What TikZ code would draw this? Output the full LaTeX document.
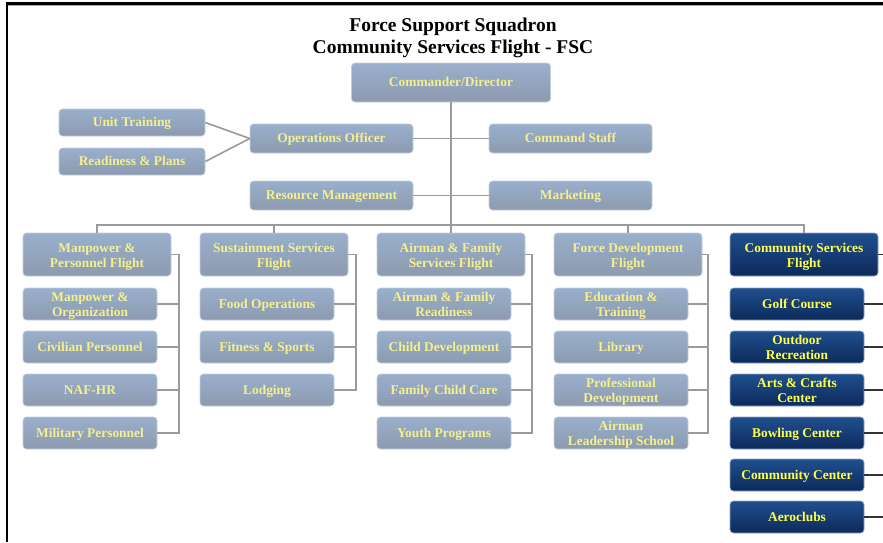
\documentclass[tikz,border=0pt]{standalone}
\usepackage{fontspec}
\setmainfont{Liberation Serif}
\definecolor{ltop}{HTML}{99AFCC}
\definecolor{lbot}{HTML}{8D9AAF}
\definecolor{dtop}{HTML}{1F4F8E}
\definecolor{dbot}{HTML}{0D2A5B}
\definecolor{ltext}{HTML}{F4F08C}
\definecolor{dtext}{HTML}{FFFF4A}
\definecolor{lineg}{HTML}{9A9A9A}
\tikzset{
  basebox/.style={rounded corners=3.5pt, inner sep=0pt, align=center,
    font=\fontsize{13.4}{15}\selectfont\bfseries,
    execute at begin node={\rule{0pt}{11pt}},
    execute at end node={\rule[-2.1pt]{0pt}{2.1pt}}},
  two/.style={execute at begin node={\rule{0pt}{28.5pt}},
    execute at end node={\rule[-3.5pt]{0pt}{3.5pt}}},
  lbox/.style={basebox, top color=ltop, bottom color=lbot, draw=ltop!60!white, line width=0.6pt, text=ltext},
  dbox/.style={basebox, top color=dtop, bottom color=dbot, draw=dtop!50!white, line width=0.6pt, text=dtext},
  hdr/.style={minimum width=148, minimum height=43, two},
  sub/.style={minimum width=134, minimum height=32},
  mid/.style={minimum width=163, minimum height=29},
  conn/.style={draw=lineg, line width=1.6pt},
  dconn/.style={draw=black!80, line width=1.5pt},
}
\begin{document}
\begin{tikzpicture}[x=1pt,y=-1pt]
\useasboundingbox (0,0) rectangle (883,542);
\fill[white] (0,0) rectangle (883,542);
% frame
\draw[line width=2.6pt, black] (7,542) -- (7,3.2) -- (883,3.2);
\draw[line width=0.8pt, black!35] (8.3,5) -- (883,5);

% title
\node[font=\fontsize{19.5}{22}\selectfont\bfseries, align=center] (title) at (453,37.5)
  {Force Support Squadron\\Community Services Flight - FSC};

% top
\node[lbox, minimum width=199, minimum height=39] (cmd) at (451,82.5) {Commander/Director};
\node[lbox, minimum width=146, minimum height=27] (ut) at (132,122.5) {Unit Training};
\node[lbox, minimum width=146, minimum height=27] (rp) at (132,161.5) {Readiness \& Plans};
\node[lbox, mid] (ops) at (331.5,138.5) {Operations Officer};
\node[lbox, mid] (cst) at (570.5,138.5) {Command Staff};
\node[lbox, mid] (rm) at (331.5,195.5) {Resource Management};
\node[lbox, mid] (mk) at (570.5,195.5) {Marketing};

% headers
\node[lbox, hdr] (h1) at (97,254.5) {Manpower \&\\Personnel Flight};
\node[lbox, hdr] (h2) at (274,254.5) {Sustainment Services\\Flight};
\node[lbox, hdr] (h3) at (451,254.5) {Airman \& Family\\Services Flight};
\node[lbox, hdr] (h4) at (628,254.5) {Force Development\\Flight};
\node[dbox, hdr] (h5) at (804,254.5) {Community Services\\Flight};

% column 1
\node[lbox, sub, two] (a1) at (90,304) {Manpower \&\\Organization};
\node[lbox, sub] (a2) at (90,347) {Civilian Personnel};
\node[lbox, sub] (a3) at (90,390) {NAF-HR};
\node[lbox, sub] (a4) at (90,433) {Military Personnel};
% column 2
\node[lbox, sub] (b1) at (267,304) {Food Operations};
\node[lbox, sub] (b2) at (267,347) {Fitness \& Sports};
\node[lbox, sub] (b3) at (267,390) {Lodging};
% column 3
\node[lbox, sub, two] (c1) at (444,304) {Airman \& Family\\Readiness};
\node[lbox, sub] (c2) at (444,347) {Child Development};
\node[lbox, sub] (c3) at (444,390) {Family Child Care};
\node[lbox, sub] (c4) at (444,433) {Youth Programs};
% column 4
\node[lbox, sub, two] (d1) at (621,304) {Education \&\\Training};
\node[lbox, sub] (d2) at (621,347) {Library};
\node[lbox, sub, two] (d3) at (621,390) {Professional\\Development};
\node[lbox, sub, two] (d4) at (621,433) {Airman\\Leadership School};
% column 5
\node[dbox, sub] (e1) at (797,304) {Golf Course};
\node[dbox, sub, two] (e2) at (797,347) {Outdoor\\Recreation};
\node[dbox, sub, two] (e3) at (797,390) {Arts \& Crafts\\Center};
\node[dbox, sub] (e4) at (797,433) {Bowling Center};
\node[dbox, sub] (e5) at (797,475) {Community Center};
\node[dbox, sub] (e6) at (797,517) {Aeroclubs};

% coordinates
\coordinate (bus) at (451,225);
\coordinate (k1) at (179,433);
\coordinate (k2) at (356,390);
\coordinate (k3) at (532,433);
\coordinate (k4) at (708,433);
\coordinate (edge) at (883,0);

% connectors
\draw[conn] (cmd.south) -- (cmd.south |- h3.north);
\draw[conn] (h1.north) |- (bus) -| (h5.north);
\draw[conn] (h2.north) -- (h2.north |- bus);
\draw[conn] (h4.north) -- (h4.north |- bus);
\draw[conn] (ut.east) -- (ops.west);
\draw[conn] (rp.east) -- (ops.west);
\draw[conn] (ops.east) -- (cst.west);
\draw[conn] (rm.east) -- (mk.west);

\draw[conn] (h1.east) -| (k1) -- (a4.east);
\foreach \n in {a1,a2,a3} \draw[conn] (\n.east) -- (\n.east -| k1);
\draw[conn] (h2.east) -| (k2) -- (b3.east);
\foreach \n in {b1,b2} \draw[conn] (\n.east) -- (\n.east -| k2);
\draw[conn] (h3.east) -| (k3) -- (c4.east);
\foreach \n in {c1,c2,c3} \draw[conn] (\n.east) -- (\n.east -| k3);
\draw[conn] (h4.east) -| (k4) -- (d4.east);
\foreach \n in {d1,d2,d3} \draw[conn] (\n.east) -- (\n.east -| k4);
\foreach \n in {h5,e1,e2,e3,e4,e5,e6} \draw[dconn] (\n.east) -- (\n.east -| edge);
\end{tikzpicture}
\end{document}
